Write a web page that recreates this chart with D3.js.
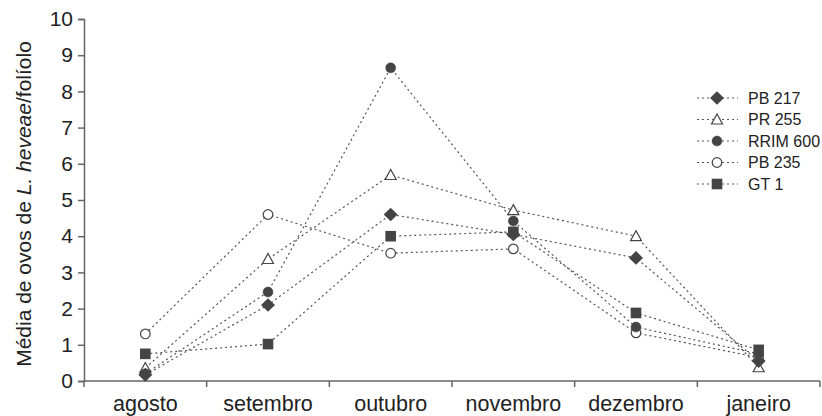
<!DOCTYPE html>
<html>
<head>
<meta charset="utf-8">
<script src="https://cdn.jsdelivr.net/npm/d3@7.9.0/dist/d3.min.js"></script>
<style>
  body { margin: 0; background: #fff; }
  svg { font-family: "Liberation Sans", Arial, sans-serif; }
</style>
</head>
<body>
<svg id="chart" width="822" height="416"></svg>
<script>
const months = ["agosto", "setembro", "outubro", "novembro", "dezembro", "janeiro"];
const yTicks = [0, 1, 2, 3, 4, 5, 6, 7, 8, 9, 10];

const pb217 = [0.17, 2.1, 4.6, 4.05, 3.4, 0.55];
const pr255 = [0.36, 3.37, 5.69, 4.72, 4.0, 0.38];
const rrim600 = [0.2, 2.46, 8.65, 4.42, 1.49, 0.75];
const pb235 = [1.3, 4.6, 3.53, 3.65, 1.33, 0.65];
const gt1 = [0.75, 1.02, 4.0, 4.12, 1.88, 0.86];

const series = [
  { name: "PB 217", values: pb217, shape: "diamond", filled: true },
  { name: "PR 255", values: pr255, shape: "triangle", filled: false },
  { name: "RRIM 600", values: rrim600, shape: "circle", filled: true },
  { name: "PB 235", values: pb235, shape: "circle", filled: false },
  { name: "GT 1", values: gt1, shape: "square", filled: true }
];

const ink = "#444";
const lineCol = "#555";
const axisCol = "#666";

const svg = d3.select("#chart");
const mLeft = 84, mRight = 820, mTop = 19, mBottom = 381;

const x = d3.scaleBand().domain(months).range([mLeft, mRight]);
const y = d3.scaleLinear().domain([0, 10]).range([mBottom, mTop]);

// y axis
const yAxis = svg.append("g").attr("transform", `translate(${mLeft},0)`)
  .call(d3.axisLeft(y).tickValues(yTicks).tickSize(6).tickPadding(5));
yAxis.select(".domain").attr("stroke", axisCol).attr("stroke-width", 1.5);
yAxis.selectAll(".tick line").attr("stroke", axisCol).attr("stroke-width", 1.5);
yAxis.selectAll(".tick text").attr("font-size", 21).attr("fill", "#222")
  .attr("font-family", "Liberation Sans, Arial, sans-serif");

// x axis: ticks at band boundaries
const xAxisG = svg.append("g").attr("transform", `translate(0,${mBottom})`);
xAxisG.append("line").attr("x1", mLeft).attr("x2", mRight)
  .attr("stroke", axisCol).attr("stroke-width", 1.5);
const bounds = months.map(m => x(m)).concat([mRight]);
xAxisG.selectAll("line.tk").data(bounds).join("line").attr("class", "tk")
  .attr("x1", d => d).attr("x2", d => d).attr("y1", 0).attr("y2", 6)
  .attr("stroke", axisCol).attr("stroke-width", 1.5);
xAxisG.selectAll("text").data(months).join("text")
  .attr("x", d => x(d) + x.bandwidth() / 2).attr("y", 30)
  .attr("text-anchor", "middle").attr("font-size", 21.5).attr("fill", "#222")
  .text(d => d);

// y title
const yt = svg.append("text")
  .attr("transform", `translate(31,${(mTop + mBottom) / 2 + 4}) rotate(-90)`)
  .attr("text-anchor", "middle").attr("font-size", 21).attr("fill", "#222");
yt.append("tspan").text("Média de ovos de ");
yt.append("tspan").attr("font-style", "italic").text("L. heveae");
yt.append("tspan").text("/folíolo");

const cx = d => x(d) + x.bandwidth() / 2;

function drawMarker(g, s, px, py) {
  const fill = s.filled ? ink : "#fff";
  if (s.shape === "circle") {
    g.append("circle").attr("cx", px).attr("cy", py).attr("r", s.filled ? 5 : 4.8)
      .attr("fill", fill).attr("stroke", ink).attr("stroke-width", s.filled ? 0.5 : 1.2);
  } else if (s.shape === "square") {
    g.append("rect").attr("x", px - 5.3).attr("y", py - 5.3).attr("width", 10.6).attr("height", 10.6)
      .attr("fill", fill);
  } else if (s.shape === "diamond") {
    g.append("path").attr("d", `M${px},${py - 6.8}L${px + 7},${py}L${px},${py + 6.8}L${px - 7},${py}Z`)
      .attr("fill", fill);
  } else if (s.shape === "triangle") {
    g.append("path").attr("d", `M${px},${py - 5.5}L${px + 5.5},${py + 4.5}L${px - 5.5},${py + 4.5}Z`)
      .attr("fill", fill).attr("stroke", ink).attr("stroke-width", 1.2);
  }
}

const line = d3.line().x((d, i) => cx(months[i])).y(d => y(d));

// lines
series.forEach(s => {
  svg.append("path").datum(s.values).attr("d", line)
    .attr("fill", "none").attr("stroke", lineCol).attr("stroke-width", 1.2)
    .attr("stroke-dasharray", "2,3");
});
// markers: open ones first, filled on top
const drawOrder = [series[3], series[1], series[2], series[0], series[4]];
drawOrder.forEach(s => {
  const g = svg.append("g");
  s.values.forEach((v, i) => drawMarker(g, s, cx(months[i]), y(v)));
});

// legend
const lg = svg.append("g");
series.forEach((s, i) => {
  const ly = 98 + i * 21.5;
  lg.append("line").attr("x1", 697).attr("x2", 738).attr("y1", ly).attr("y2", ly)
    .attr("stroke", lineCol).attr("stroke-width", 1.2).attr("stroke-dasharray", "2,3");
  drawMarker(lg, s, 717, ly);
  lg.append("text").attr("x", 748).attr("y", ly + 5.5).attr("font-size", 16).attr("fill", "#222")
    .text(s.name);
});
</script>
</body>
</html>
